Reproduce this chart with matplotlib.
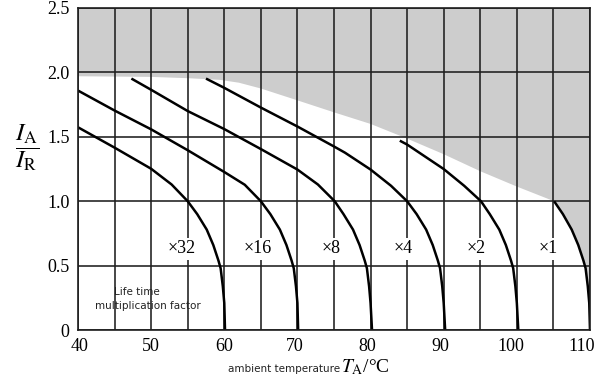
import matplotlib
matplotlib.use('Agg')
import matplotlib.pyplot as plt
import matplotlib.transforms as mtrans
from matplotlib.ticker import FixedLocator

plt.rcParams['mathtext.fontset'] = 'stix'

SERIF = 'Liberation Serif'
SANS = 'DejaVu Sans'

# life-time curves (ambient temperature in degC, current ratio IA/IR)
x32 = [40, 45, 50, 52.8, 55, 56.3, 57.6, 58.5, 59.2, 59.5, 59.8, 60.0, 60.1]
y32 = [1.574, 1.416, 1.252, 1.13, 1.0, 0.90, 0.78, 0.66, 0.54, 0.48, 0.34, 0.21, 0]

x16 = [40, 45, 50, 55, 60, 62.8, 65, 66.3, 67.6, 68.5, 69.2, 69.5, 69.8, 70.0, 70.1]
y16 = [1.859, 1.704, 1.558, 1.396, 1.227, 1.128, 1.0, 0.90, 0.78, 0.66, 0.54, 0.48, 0.34, 0.21, 0]

x8 = [47.3, 50, 55, 60, 65, 70, 72.8, 75.1, 76.3, 77.6, 78.5, 79.2, 79.5, 79.8, 80.0, 80.2]
y8 = [1.952, 1.865, 1.70, 1.56, 1.405, 1.246, 1.13, 1.0, 0.90, 0.78, 0.66, 0.54, 0.48, 0.34, 0.21, 0]

x4 = [57.5, 60, 65, 70, 75, 76.5, 80, 82.8, 85, 86.3, 87.6, 88.5, 89.2, 89.5, 89.8, 90.0, 90.2]
y4 = [1.952, 1.88, 1.727, 1.58, 1.425, 1.377, 1.246, 1.12, 1.0, 0.90, 0.78, 0.66, 0.54, 0.48, 0.34, 0.21, 0]

x2 = [84, 85, 90, 92.8, 95.1, 96.3, 97.6, 98.5, 99.2, 99.5, 99.8, 100.0, 100.2]
y2 = [1.47, 1.44, 1.25, 1.12, 1.0, 0.90, 0.78, 0.66, 0.54, 0.48, 0.34, 0.21, 0]

x1 = [105.1, 106.3, 107.5, 108.4, 109.1, 109.4, 109.7, 109.9, 110.0]
y1 = [1.0, 0.90, 0.78, 0.66, 0.54, 0.48, 0.34, 0.21, 0]

curves = [(x32, y32), (x16, y16), (x8, y8), (x4, y4), (x2, y2), (x1, y1)]

# upper limit of the allowed operating area (above it is shaded)
limit_x = [40, 50, 55, 59.4, 62, 65, 70, 75, 80, 85, 90, 95, 100, 105.1]
limit_y = [1.97, 1.965, 1.955, 1.942, 1.92, 1.875, 1.783, 1.69, 1.60, 1.486, 1.365, 1.233, 1.114, 1.0]

factor_labels = ['\u00d732', '\u00d716', '\u00d78', '\u00d74', '\u00d72', '\u00d71']
label_x = [54.2, 64.6, 74.6, 84.4, 94.5, 104.3]
label_y = 0.63

x_ticks = [40, 50, 60, 70, 80, 90, 100, 110]
x_grid = [45, 50, 55, 60, 65, 70, 75, 80, 85, 90, 95, 100, 105]
y_ticks = [0, 0.5, 1.0, 1.5, 2.0, 2.5]
y_ticklabels = ['0', '0.5', '1.0', '1.5', '2.0', '2.5']

fig = plt.figure(figsize=(6, 3.79), dpi=100)
ax = fig.add_axes([0.13, 0.129, 0.8533, 0.85])
ax.set_xlim(40, 110)
ax.set_ylim(0, 2.5)

# shaded forbidden area
poly_x = limit_x + x1[1:] + [110, 40]
poly_y = limit_y + y1[1:] + [2.5, 2.5]
ax.fill(poly_x, poly_y, color='#cdcdcd', lw=0, zorder=1)

# grid
ax.xaxis.set_major_locator(FixedLocator(x_ticks))
ax.xaxis.set_minor_locator(FixedLocator(x_grid))
ax.set_yticks(y_ticks)
ax.set_yticklabels(y_ticklabels)
ax.grid(True, which='both', color='#1e1e1e', lw=1.15, zorder=2)
ax.set_axisbelow(False)
ax.tick_params(which='both', length=0, labelsize=13, pad=6)
for lbl in ax.get_xticklabels() + ax.get_yticklabels():
    lbl.set_fontfamily(SERIF)

# the printed x labels drift slightly left of their grid lines
shift_px = [1.5, 0, -0.5, -2.5, -3.5, -3.5, -6, -8]
for lbl, dx in zip(ax.get_xticklabels(), shift_px):
    lbl.set_transform(lbl.get_transform() +
                      mtrans.ScaledTranslation(dx / 100, 0, fig.dpi_scale_trans))

for sp in ax.spines.values():
    sp.set_linewidth(1.2)
    sp.set_color('#1e1e1e')
    sp.set_zorder(5)

for cx, cy in curves:
    ax.plot(cx, cy, color='black', lw=1.8, zorder=4, solid_capstyle='butt')

for txt, lx in zip(factor_labels, label_x):
    ax.text(lx, label_y, txt, ha='center', va='center', fontsize=13,
            family=SERIF, zorder=3,
            bbox=dict(boxstyle='square,pad=0.15', fc='white', ec='none'))

ax.text(48.1, 0.297, 'Life time', ha='center', va='center', fontsize=7.5,
        family=SANS, color='#222222', zorder=3)
ax.text(49.5, 0.189, 'multiplication factor', ha='center', va='center',
        fontsize=7.5, family=SANS, color='#222222', zorder=3)

# axis labels
ax.text(0.512, -0.13, 'ambient temperature', transform=ax.transAxes,
        ha='right', va='baseline', fontsize=7.5, family=SANS, color='#222222')
ax.text(0.514, -0.13, r'$T_{\mathrm{A}}$/°C', transform=ax.transAxes,
        ha='left', va='baseline', fontsize=14, family=SERIF)
ax.text(-0.1, 0.565, r'$\dfrac{I_{\mathrm{A}}}{I_{\mathrm{R}}}$',
        transform=ax.transAxes, ha='center', va='center', fontsize=18)

fig.savefig('out.png', dpi=100)
